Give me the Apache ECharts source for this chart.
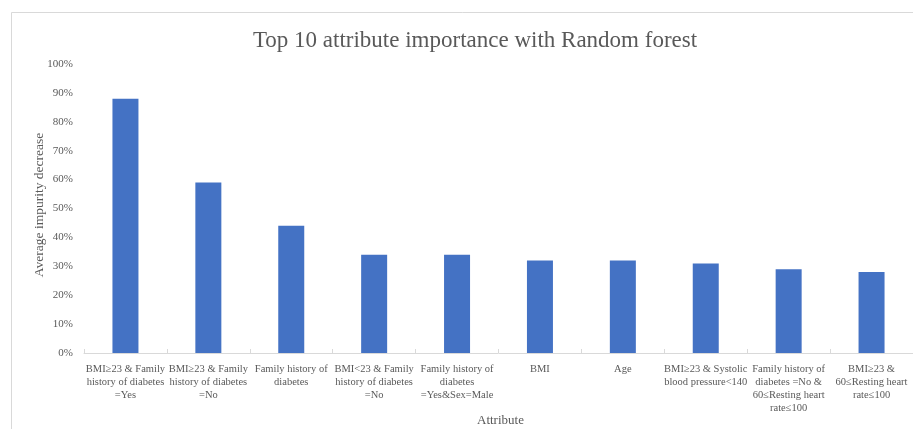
<!DOCTYPE html>
<html>
<head>
<meta charset="utf-8">
<script src="https://cdn.jsdelivr.net/npm/echarts@6/dist/echarts.min.js"></script>
<style>
  html, body { margin: 0; padding: 0; background: #ffffff; }
  #chart { width: 913px; height: 429px; }
</style>
</head>
<body>
<div id="chart"></div>
<script>
// Attributes ranked by importance (multi-line axis labels)
const attributes = [
  'BMI≥23 & Family\nhistory of diabetes\n=Yes',
  'BMI≥23 & Family\nhistory of diabetes\n=No',
  'Family history of\ndiabetes',
  'BMI<23 & Family\nhistory of diabetes\n=No',
  'Family history of\ndiabetes\n=Yes&Sex=Male',
  'BMI',
  'Age',
  'BMI≥23 & Systolic\nblood pressure<140',
  'Family history of\ndiabetes =No &\n60≤Resting heart\nrate≤100',
  'BMI≥23 &\n60≤Resting heart\nrate≤100'
];

// Average impurity decrease, in percent
const importance = [88, 59, 44, 34, 34, 32, 32, 31, 29, 28];

const titleText = 'Top 10 attribute importance with Random forest';
const yAxisTitle = 'Average impurity decrease';
const xAxisTitle = 'Attribute';

const serif = '"Liberation Serif", "DejaVu Serif", serif';
const textColor = '#595959';

const chart = echarts.init(document.getElementById('chart'));
chart.setOption({
  animation: false,
  backgroundColor: '#ffffff',
  title: {
    text: titleText,
    left: 470,
    textAlign: 'center',
    top: 24,
    textStyle: { fontFamily: serif, fontSize: 23, fontWeight: 'normal', color: textColor }
  },
  graphic: [
    {
      type: 'rect',
      shape: { x: 11.5, y: 12.5, width: 960, height: 460 },
      style: { fill: 'none', stroke: '#d9d9d9', lineWidth: 1 },
      silent: true
    },
    {
      type: 'text',
      left: 477,
      top: 414,
      style: { text: xAxisTitle, font: '13px ' + serif, fill: textColor }
    },
    {
      // vertical value-axis title
      type: 'text',
      x: 39,
      y: 205,
      rotation: Math.PI / 2,
      style: {
        text: yAxisTitle,
        font: '13.5px ' + serif,
        fill: textColor,
        align: 'center',
        verticalAlign: 'middle'
      }
    }
  ],
  grid: { left: 84, right: 0, top: 64, bottom: 76, containLabel: false },
  xAxis: {
    type: 'category',
    data: attributes,
    axisLine: { lineStyle: { color: '#d9d9d9' } },
    axisTick: { show: true, inside: true, length: 4, lineStyle: { color: '#d9d9d9' } },
    axisLabel: {
      interval: 0,
      margin: 10,
      fontFamily: serif,
      fontSize: 10.5,
      lineHeight: 13,
      color: textColor,
      align: 'center'
    }
  },
  yAxis: {
    type: 'value',
    min: 0,
    max: 100,
    interval: 10,
    axisLine: { show: false },
    axisTick: { show: false },
    splitLine: { show: false },
    axisLabel: {
      formatter: '{value}%',
      fontFamily: serif,
      fontSize: 11,
      color: textColor,
      margin: 11
    }
  },
  series: [{
    type: 'bar',
    data: importance,
    barWidth: 26,
    itemStyle: { color: '#4472C4' }
  }]
});
</script>
</body>
</html>
